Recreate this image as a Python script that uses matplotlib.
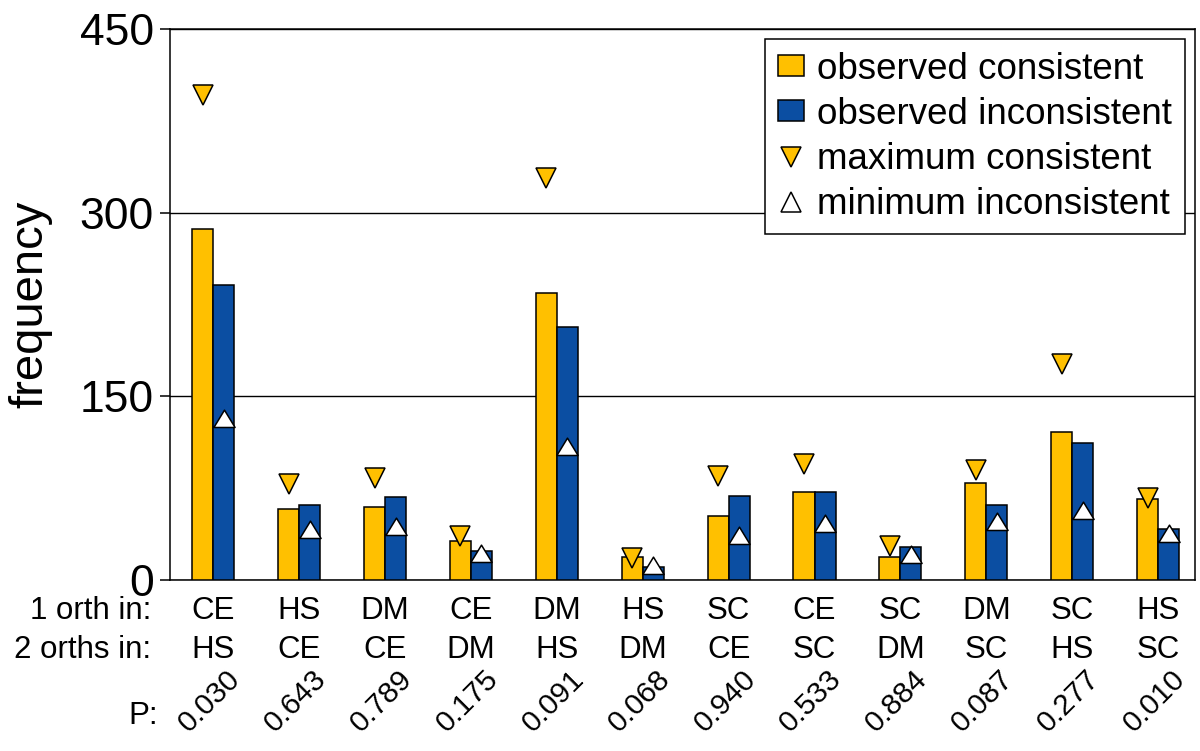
import matplotlib
matplotlib.use("Agg")
import matplotlib.pyplot as plt
import numpy as np
from matplotlib.path import Path
from matplotlib.lines import Line2D
from matplotlib.patches import Patch

plt.rcParams['font.family'] = ['Liberation Sans', 'DejaVu Sans']

# ---- data ----
orth1 = ['CE', 'HS', 'DM', 'CE', 'DM', 'HS', 'SC', 'CE', 'SC', 'DM', 'SC', 'HS']
orth2 = ['HS', 'CE', 'CE', 'DM', 'HS', 'DM', 'CE', 'SC', 'DM', 'SC', 'HS', 'SC']
p_values = ['0.030', '0.643', '0.789', '0.175', '0.091', '0.068',
            '0.940', '0.533', '0.884', '0.087', '0.277', '0.010']
observed_consistent = [287, 58, 60, 32, 234, 19, 52, 72, 19, 79, 121, 66]
observed_inconsistent = [241, 61, 68, 24, 207, 11, 69, 72, 27, 61, 112, 42]
maximum_consistent = [396, 78, 83, 36, 328, 18, 85, 95, 28, 90, 176, 67]
minimum_inconsistent = [125, 34, 37, 15, 102, 5, 29, 39, 14, 41, 50, 31]
yticks = [0, 150, 300, 450]

ORANGE = '#FFC000'
BLUE = '#0B4EA2'

fig = plt.figure(figsize=(12, 7.51), dpi=100)
ax = fig.add_axes([170/1200, 1-580/751, 1025/1200, 551/751])

x = np.arange(len(orth1))
w = 0.245

ax.bar(x - w/2, observed_consistent, w, color=ORANGE, edgecolor='black', linewidth=1.1, zorder=3)
ax.bar(x + w/2, observed_inconsistent, w, color=BLUE, edgecolor='black', linewidth=1.1, zorder=3)

# max consistent: downward triangles
ax.plot(x - w/2, maximum_consistent, linestyle='none', marker='v', markersize=14.5,
        markerfacecolor=ORANGE, markeredgecolor='black', markeredgewidth=1.1, zorder=5)

# min inconsistent: upward triangle with base at the value + line across bar
up_tri = Path([(-1, 0), (1, 0), (0, 1.64), (-1, 0)],
              [Path.MOVETO, Path.LINETO, Path.LINETO, Path.CLOSEPOLY])
ax.hlines(minimum_inconsistent, x, x + w, colors='black', linewidth=1.3, zorder=4)
ax.plot(x + w/2, minimum_inconsistent, linestyle='none', marker=up_tri, markersize=25,
        markerfacecolor='white', markeredgecolor='black', markeredgewidth=1.1, zorder=5)

ax.set_xlim(-0.504, 11.43)
ax.set_ylim(0, 450)
ax.set_yticks(yticks)
ax.set_yticklabels([str(t) for t in yticks], fontsize=32)
ax.tick_params(axis='y', direction='out', length=7.5, width=1.1, pad=4, color='black')
ax.set_xticks([])
for s in ax.spines.values():
    s.set_linewidth(1.1)
    s.set_color('black')
ax.yaxis.grid(True, color='black', linewidth=1.0, zorder=0)
ax.set_axisbelow(True)

ax.set_ylabel('frequency', fontsize=34)
ax.yaxis.set_label_coords(-0.115, 0.5)

# category labels
tr = ax.get_xaxis_transform()
fs_lab = 22.5
for i in range(len(orth1)):
    ax.text(x[i], (580-611)/551, orth1[i], transform=tr, ha='center', va='center', fontsize=fs_lab)
    ax.text(x[i], (580-650)/551, orth2[i], transform=tr, ha='center', va='center', fontsize=fs_lab)
    ax.text(x[i] - 0.04, (580-701)/551, p_values[i], transform=tr, ha='center', va='center',
            fontsize=21.5, rotation=45, rotation_mode='anchor')

fig.text(151/1200, 1-611/751, '1 orth in:', ha='right', va='center', fontsize=fs_lab)
fig.text(151/1200, 1-650/751, '2 orths in:', ha='right', va='center', fontsize=fs_lab)
fig.text(158/1200, 1-716/751, 'P:', ha='right', va='center', fontsize=fs_lab)

# legend
handles = [
    Patch(facecolor=ORANGE, edgecolor='black', linewidth=1.1, label='observed consistent'),
    Patch(facecolor=BLUE, edgecolor='black', linewidth=1.1, label='observed inconsistent'),
    Line2D([], [], linestyle='none', marker='v', markersize=15, markerfacecolor=ORANGE,
           markeredgecolor='black', markeredgewidth=1.1, label='maximum consistent'),
    Line2D([], [], linestyle='none', marker='^', markersize=15, markerfacecolor='white',
           markeredgecolor='black', markeredgewidth=1.1, label='minimum inconsistent'),
]
leg = ax.legend(handles=handles, loc='upper right', bbox_to_anchor=(0.990, 0.982),
                borderaxespad=0, fontsize=26.5, frameon=True, fancybox=False,
                edgecolor='black', framealpha=1, handlelength=0.7, handleheight=0.5,
                handletextpad=0.35, labelspacing=0.27, borderpad=0.35)
leg.get_frame().set_linewidth(1.1)
leg.set_zorder(10)

fig.savefig('out.png', dpi=100)
